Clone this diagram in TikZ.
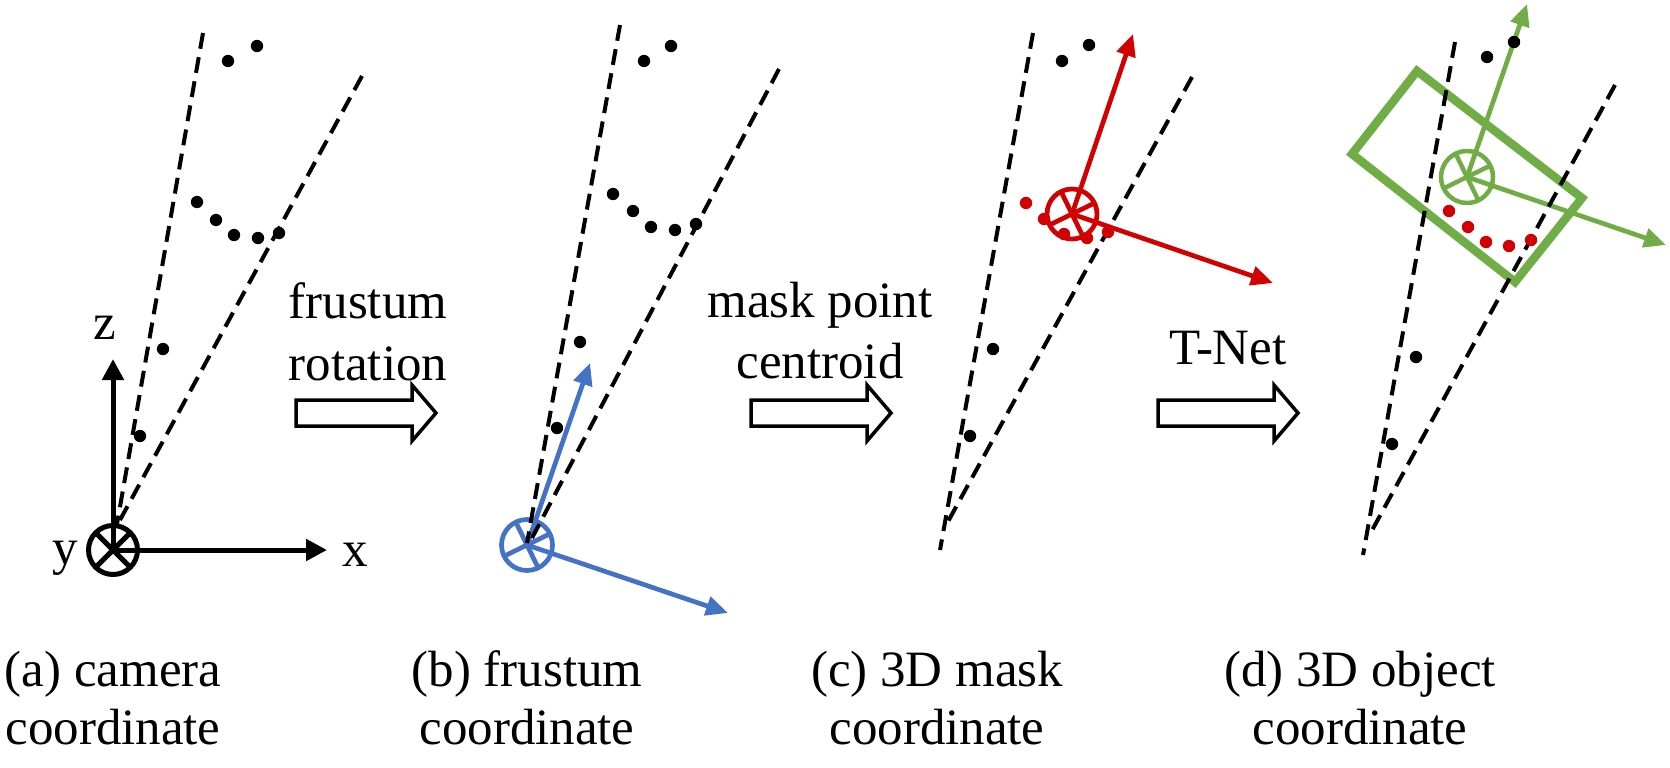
\documentclass[tikz,border=0pt]{standalone}
\usepackage{fontspec}
\setmainfont{Liberation Serif}
\usepackage{tikz}
\usetikzlibrary{arrows.meta}
\definecolor{vblue}{HTML}{4472C4}
\definecolor{vred}{RGB}{210,0,0}
\definecolor{vgreen}{HTML}{70AD47}

\begin{document}
\begin{tikzpicture}[x=0.1mm, y=-0.1mm,
    every node/.style={font=\fontsize{14.5}{17}\selectfont, inner sep=0pt},
    frust/.style={black, line width=0.4mm, dash pattern=on 1.6mm off 0.85mm},
    axis/.style={line width=0.5mm, -{Triangle[length=2.1mm, width=2.1mm]}},
    vec/.style={line width=0.47mm, -{Triangle[length=2.2mm, width=1.9mm]}},
    hollow/.style={draw=black, fill=white, line width=0.35mm, line join=miter}]
    \useasboundingbox (0,0) rectangle (1670,767);

    % (a) camera
    \draw[frust] (203,33) -- (117,524);
    \draw[frust] (362,76) -- (120,520);
    \fill (228,61) circle[radius=0.62mm] (257,46) circle[radius=0.62mm];
    \fill (197,202) circle[radius=0.62mm] (216,220) circle[radius=0.62mm] (234,235) circle[radius=0.62mm] (258,238) circle[radius=0.62mm] (279,233) circle[radius=0.62mm];
    \fill (163,349) circle[radius=0.62mm] (140,436) circle[radius=0.62mm];
    \coordinate (oa) at (113,550);
    \coordinate (za) at (113,359);
    \coordinate (xa) at (327,550);
    \draw[axis] (oa) -- (za);
    \draw[axis] (oa) -- (xa);
    \draw[line width=0.5mm] (oa) circle[radius=2.45mm];
    \draw[line width=0.5mm] (oa) +(45:24.5) -- +(-135:24.5) (oa) +(135:24.5) -- +(-45:24.5);
    \node[anchor=base] (zlbl) at (105,339) {z};
    \node[anchor=base] (xlbl) at (355,566) {x};
    \node[anchor=base] (ylbl) at (65,564) {y};

    % (b) frustum
    \coordinate (ob) at (527,545);
    \coordinate (ub) at (590,363);
    \coordinate (rb) at (728,613);
    \draw[vec, vblue] (ob) -- (ub);
    \draw[vec, vblue] (ob) -- (rb);
    \draw[vblue, line width=0.47mm] (ob) circle[radius=2.55mm];
    \draw[vblue, line width=0.47mm] (ob) +(-26:25.5) -- +(154:25.5) (ob) +(-116:25.5) -- +(64:25.5);
    \draw[frust] (620,25) -- (527,543);
    \draw[frust] (779,69) -- (532,538);
    \fill (644,61) circle[radius=0.62mm] (671,46) circle[radius=0.62mm];
    \fill (613,194) circle[radius=0.62mm] (633,211) circle[radius=0.62mm] (651,227) circle[radius=0.62mm] (675,230) circle[radius=0.62mm] (696,224) circle[radius=0.62mm];
    \fill (580,342) circle[radius=0.62mm] (557,428) circle[radius=0.62mm];

    % (c) 3D mask
    \draw[frust] (1033,33) -- (940,550);
    \draw[frust] (1192,77) -- (945,527);
    \fill (1062,61) circle[radius=0.62mm] (1089,45) circle[radius=0.62mm];
    \fill (993,349) circle[radius=0.62mm] (970,436) circle[radius=0.62mm];
    \coordinate (oc) at (1072,214);
    \coordinate (uc) at (1133,34);
    \coordinate (rc) at (1273,283);
    \draw[vec, vred] (oc) -- (uc);
    \draw[vec, vred] (oc) -- (rc);
    \draw[vred, line width=0.47mm] (oc) circle[radius=2.5mm];
    \draw[vred, line width=0.47mm] (oc) +(-26:25) -- +(154:25) (oc) +(-116:25) -- +(64:25);
    \fill[vred] (1026,203) circle[radius=0.62mm] (1044,219) circle[radius=0.62mm] (1064,234) circle[radius=0.62mm] (1087,238) circle[radius=0.62mm] (1108,232) circle[radius=0.62mm];

    % (d) 3D object
    \coordinate (od) at (1467,177);
    \coordinate (ud) at (1527,4);
    \coordinate (rd) at (1666,245);
    \draw[vgreen, line width=0.85mm, line join=miter] (1352,154) -- (1417,71) -- (1582,198) -- (1515,282) -- cycle;
    \draw[vec, vgreen] (od) -- (ud);
    \draw[vec, vgreen] (od) -- (rd);
    \draw[vgreen, line width=0.45mm] (od) circle[radius=2.6mm];
    \draw[vgreen, line width=0.45mm] (od) +(-26:26) -- +(154:26) (od) +(-116:26) -- +(64:26);
    \draw[frust] (1455,42) -- (1363,555);
    \draw[frust] (1615,85) -- (1370,534);
    \fill (1487,57) circle[radius=0.62mm] (1514,42) circle[radius=0.62mm];
    \fill (1416,357) circle[radius=0.62mm] (1392,444) circle[radius=0.62mm];
    \fill[vred] (1449,211) circle[radius=0.62mm] (1468,227) circle[radius=0.62mm] (1486,242) circle[radius=0.62mm] (1509,246) circle[radius=0.62mm] (1531,240) circle[radius=0.62mm];

    % transformations
    \draw[hollow] (296,400) -- ++(116,0) -- ++(0,-15) -- ++(24,28) -- ++(-24,28) -- ++(0,-15) -- ++(-116,0) -- cycle;
    \draw[hollow] (751,400) -- ++(116,0) -- ++(0,-15) -- ++(24,28) -- ++(-24,28) -- ++(0,-15) -- ++(-116,0) -- cycle;
    \draw[hollow] (1158,400) -- ++(116,0) -- ++(0,-15) -- ++(24,28) -- ++(-24,28) -- ++(0,-15) -- ++(-116,0) -- cycle;
    \node[anchor=base] (frustlbl) at (368,318) {frustum};
    \node[anchor=base] (rotlbl) at (368,380) {rotation};
    \node[anchor=base] (masklbl) at (820,317) {mask point};
    \node[anchor=base] (centlbl) at (820,378) {centroid};
    \node[anchor=base] (tnetlbl) at (1228,364) {T-Net};

    % captions
    \node[anchor=base] (capa) at (113,686) {(a) camera};
    \node[anchor=base] (capa2) at (113,744) {coordinate};
    \node[anchor=base] (capb) at (527,686) {(b) frustum};
    \node[anchor=base] (capb2) at (527,744) {coordinate};
    \node[anchor=base] (capc) at (937,686) {(c) 3D mask};
    \node[anchor=base] (capc2) at (937,744) {coordinate};
    \node[anchor=base] (capd) at (1360,686) {(d) 3D object};
    \node[anchor=base] (capd2) at (1360,744) {coordinate};
\end{tikzpicture}
\end{document}
